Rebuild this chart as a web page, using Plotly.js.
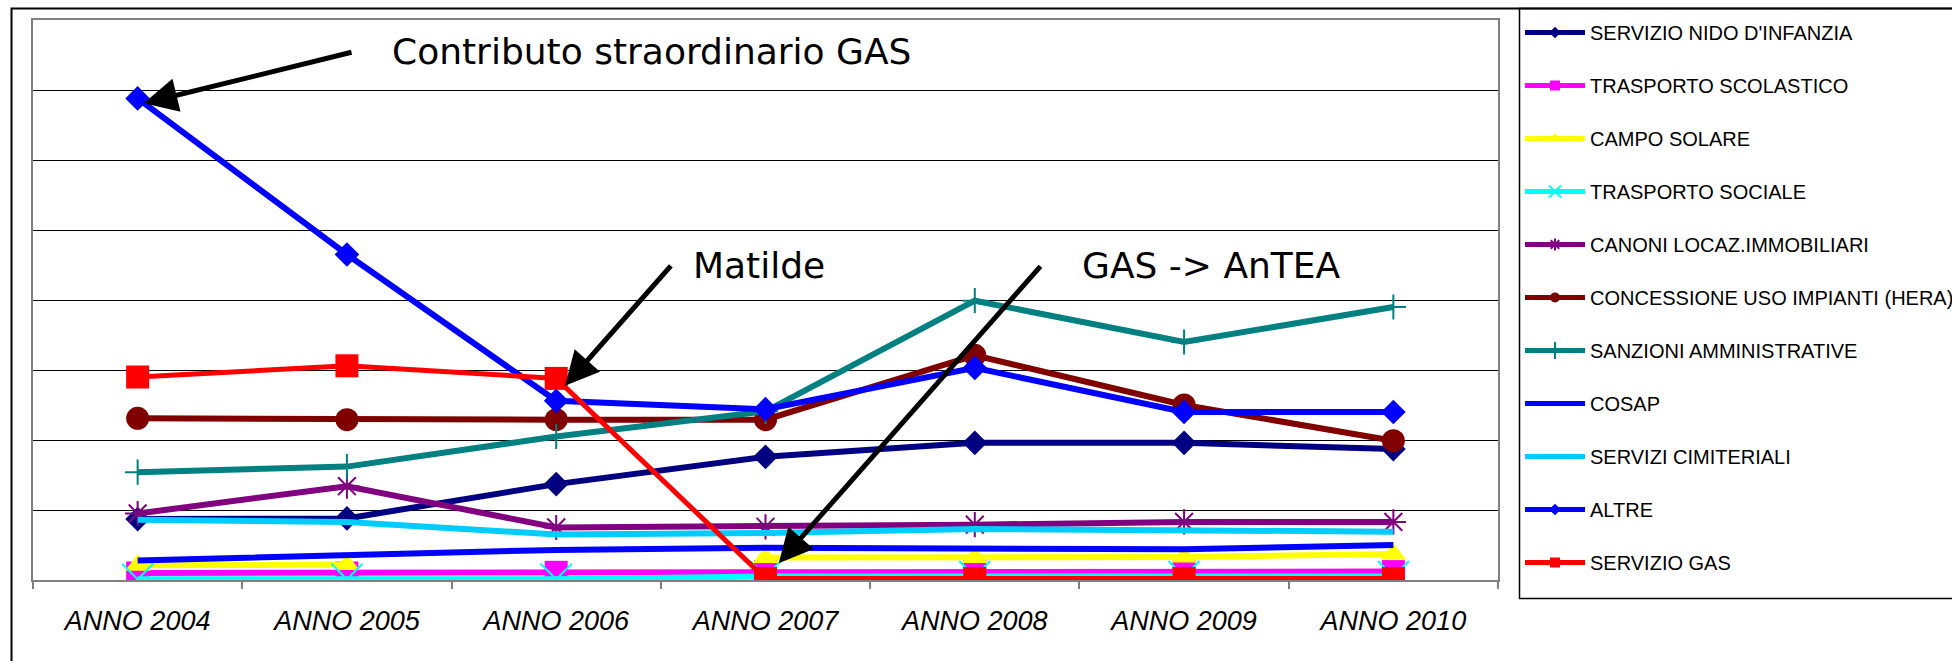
<!DOCTYPE html>
<html>
<head>
<meta charset="utf-8">
<script src="https://cdn.plot.ly/plotly-3.0.1.min.js"></script>
<style>
  html, body { margin: 0; padding: 0; background: #fff; }
  #chart { width: 1952px; height: 661px; }
</style>
</head>
<body>
<div id="chart"></div>
<script>
// ---------- DATA ----------
const categories = ['ANNO 2004', 'ANNO 2005', 'ANNO 2006', 'ANNO 2007', 'ANNO 2008', 'ANNO 2009', 'ANNO 2010'];

const seriesNames = [
  'SERVIZIO NIDO D\'INFANZIA',
  'TRASPORTO SCOLASTICO',
  'CAMPO SOLARE',
  'TRASPORTO SOCIALE',
  'CANONI LOCAZ.IMMOBILIARI',
  'CONCESSIONE USO IMPIANTI (HERA)',
  'SANZIONI AMMINISTRATIVE',
  'COSAP',
  'SERVIZI CIMITERIALI',
  'ALTRE',
  'SERVIZIO GAS'
];

const nidoInfanzia        = [0.87, 0.88, 1.37, 1.76, 1.96, 1.96, 1.87];
const trasportoScolastico = [0.10, 0.10, 0.11, 0.12, 0.12, 0.12, 0.12];
const campoSolare         = [0.21, 0.22, null, 0.32, 0.32, 0.33, 0.37];
const trasportoSociale    = [0.01, 0.01, 0.01, 0.05, 0.05, 0.05, 0.05];
const canoniLocazioni     = [0.95, 1.34, 0.75, 0.76, 0.79, 0.83, 0.83];
const concessioneHera     = [2.31, 2.29, 2.29, 2.29, 3.21, 2.50, 1.99];
const sanzioniAmm         = [1.54, 1.62, 2.05, 2.41, 3.99, 3.40, 3.90];
const cosap               = [0.28, 0.35, 0.43, 0.46, 0.44, 0.44, 0.50];
const serviziCimiteriali  = [0.86, 0.83, 0.65, 0.67, 0.73, 0.71, 0.69];
const altre               = [6.88, 4.65, 2.56, 2.44, 3.03, 2.40, 2.40];
const servizioGas         = [2.90, 3.06, 2.88, 0.02, 0.02, 0.02, 0.02];

const seriesValues = [nidoInfanzia, trasportoScolastico, campoSolare, trasportoSociale,
  canoniLocazioni, concessioneHera, sanzioniAmm, cosap, serviziCimiteriali, altre, servizioGas];

// ---------- STYLE ----------
const colors  = ['#000080', '#FF00FF', '#FFFF00', '#00FFFF', '#800080', '#800000', '#008080', '#0000FF', '#00CCFF', '#0000FF', '#FF0000'];
const symbols = ['diamond', 'square', 'triangle-up', 'x-thin-open', 'asterisk-open', 'circle', 'cross-thin-open', null, null, 'diamond', 'square'];
const sizes   = [19, 23, 22, 31, 21, 23, 18, 0, 0, 19, 23];
const legendSizes = [9, 10, 11, 12, 10, 10, 12, 0, 0, 9, 10];
const lineWidths = [6, 6, 6, 6, 6, 6, 6, 6, 6, 6, 5];

const W = 1952, H = 661;
const M = { l: 33, r: 454, t: 20, b: 81 };
const pxX = p => (p - M.l) / (W - M.l - M.r);
const pxY = p => (H - M.b - p) / (H - M.t - M.b);

function makeTrace(i, xs, ys, msize, legend) {
  const sym = symbols[i];
  const thin = !!(sym && sym.indexOf('open') >= 0);
  const t = {
    type: 'scatter', x: xs, y: ys, name: seriesNames[i],
    mode: sym ? 'lines+markers' : 'lines',
    line: { color: colors[i], width: legend ? 5 : lineWidths[i] },
    connectgaps: false, showlegend: legend, hoverinfo: 'skip'
  };
  if (legend) t.legendgroup = 'g' + i;
  if (sym) {
    t.marker = { symbol: sym, size: msize, color: colors[i], line: { color: colors[i], width: thin ? 2 : 0 } };
  }
  return t;
}

const traces = [];
seriesNames.forEach((name, i) => traces.push(makeTrace(i, categories, seriesValues[i], sizes[i], false)));
// legend-only entries (smaller symbols like the original legend)
seriesNames.forEach((name, i) => traces.push(makeTrace(i, [null], [null], legendSizes[i], true)));

const annFont = { family: 'DejaVu Sans, sans-serif', size: 36, color: '#000' };
const arrow = (x, y, ax, ay) => ({
  x: x, y: y, ax: ax, ay: ay, xref: 'x', yref: 'y', axref: 'x', ayref: 'y',
  text: '', showarrow: true, arrowhead: 2, arrowsize: 1.35, arrowwidth: 5, arrowcolor: '#000'
});
const label = (x, y, t) => ({
  x: x, y: y, xref: 'x', yref: 'y', text: t, showarrow: false,
  xanchor: 'left', yanchor: 'middle', font: annFont
});

const layout = {
  width: W, height: H,
  margin: Object.assign({ autoexpand: false }, M),
  paper_bgcolor: '#fff', plot_bgcolor: '#fff',
  showlegend: true,
  xaxis: {
    type: 'category', range: [-0.5, 6.5], fixedrange: true,
    showgrid: false, zeroline: false,
    showline: true, mirror: true, linecolor: '#808080', linewidth: 2,
    ticks: 'outside', tickson: 'boundaries', ticklen: 7, tickwidth: 2, tickcolor: '#808080',
    tickfont: { family: 'Liberation Sans, Arial, sans-serif', size: 27, style: 'italic', color: '#000' },
    ticklabelstandoff: 16
  },
  yaxis: {
    range: [0, 8], dtick: 1, tick0: 0, fixedrange: true,
    showgrid: true, gridcolor: '#000', gridwidth: 1,
    zeroline: false, showticklabels: false, ticks: '',
    showline: true, mirror: true, linecolor: '#808080', linewidth: 2
  },
  legend: {
    x: pxX(1520), xanchor: 'left', y: pxY(13), yanchor: 'top',
    bgcolor: 'rgba(0,0,0,0)', borderwidth: 0, maxheight: 900,
    font: { family: 'Liberation Sans, Arial, sans-serif', size: 20, color: '#000' },
    itemwidth: 60, tracegroupgap: 24, traceorder: 'grouped', itemclick: false, itemdoubleclick: false
  },
  annotations: [
    arrow(0.029, 6.81, 1.029, 7.544),
    arrow(2.042, 2.774, 2.554, 4.51),
    arrow(3.063, 0.239, 4.32, 4.503),
    label(1.205, 7.55, 'Contributo straordinario GAS'),
    label(2.645, 4.486, 'Matilde'),
    label(4.505, 4.486, 'GAS -&gt; AnTEA')
  ],
  shapes: [
    { type: 'rect', xref: 'paper', yref: 'paper', x0: pxX(11.5), x1: pxX(1975), y0: pxY(690), y1: pxY(8.5),
      line: { color: '#000', width: 2 }, fillcolor: 'rgba(0,0,0,0)' },
    { type: 'rect', xref: 'paper', yref: 'paper', x0: pxX(1519.5), x1: pxX(1975), y0: pxY(598.5), y1: pxY(8.5),
      line: { color: '#000', width: 1.5 }, fillcolor: 'rgba(0,0,0,0)' }
  ]
};

Plotly.newPlot('chart', traces, layout, { staticPlot: true, displayModeBar: false });
</script>
</body>
</html>
